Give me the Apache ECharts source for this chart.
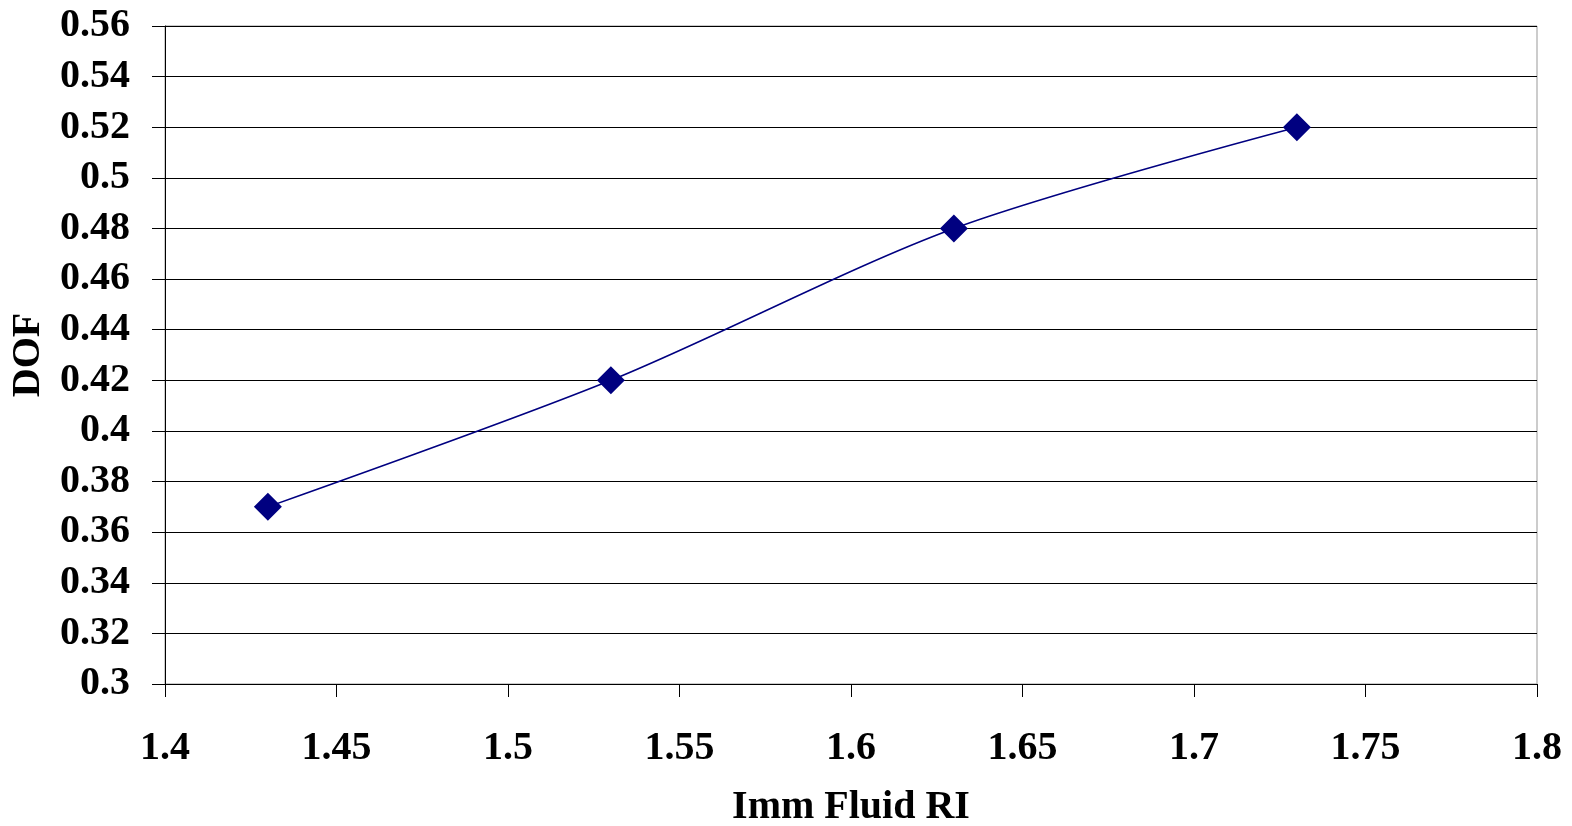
<!DOCTYPE html>
<html>
<head>
<meta charset="utf-8">
<script src="https://cdn.jsdelivr.net/npm/echarts@6/dist/echarts.min.js"></script>
<style>
  html, body { margin: 0; padding: 0; background: #fff; }
  #chart { width: 1572px; height: 826px; }
</style>
</head>
<body>
<div id="chart"></div>
<script>
// refractive index of immersion fluid vs depth of focus
const riValues = [1.43, 1.53, 1.63, 1.73]
const dofValues = [0.37, 0.42, 0.48, 0.52]

const font = 'Liberation Serif'
const points = riValues.map((x, i) => [x, dofValues[i]])

let myChart = echarts.init(document.getElementById('chart'))
myChart.setOption({
    animation: false,
    grid: {
        left: 165, right: 35, top: 26, bottom: 142,
        outerBoundsMode: 'none', containLabel: false,
        show: true, borderColor: '#999', borderWidth: 1
    },
    xAxis: {
        type: 'value',
        min: 1.4, max: 1.8, interval: 0.05,
        name: 'Imm Fluid RI',
        nameLocation: 'middle',
        nameGap: 104,
        nameTextStyle: { fontFamily: font, fontWeight: 'bold', fontSize: 40, color: '#000' },
        axisLine: { lineStyle: { color: '#000', width: 1 } },
        axisTick: { show: true, length: 13, lineStyle: { color: '#000' } },
        axisLabel: { margin: 45, fontFamily: font, fontWeight: 'bold', fontSize: 40, color: '#000',
            formatter: v => +v.toFixed(2) + '' },
        splitLine: { show: false }
    },
    yAxis: {
        type: 'value',
        min: 0.3, max: 0.56, interval: 0.02,
        name: 'DOF',
        nameLocation: 'middle',
        nameGap: 104,
        nameTextStyle: { fontFamily: font, fontWeight: 'bold', fontSize: 40, color: '#000' },
        axisLine: { show: true, lineStyle: { color: '#000', width: 1 } },
        axisTick: { show: true, length: 13, lineStyle: { color: '#000' } },
        axisLabel: { margin: 35, fontFamily: font, fontWeight: 'bold', fontSize: 40, color: '#000',
            formatter: v => +v.toFixed(2) + '' },
        splitLine: { show: true, lineStyle: { color: '#000', width: 1 } }
    },
    series: [{
        type: 'line',
        data: points,
        smooth: 0.3,
        symbol: 'diamond',
        symbolSize: 28,
        lineStyle: { color: '#000080', width: 1.5 },
        itemStyle: { color: '#000080' }
    }]
})
</script>
</body>
</html>
